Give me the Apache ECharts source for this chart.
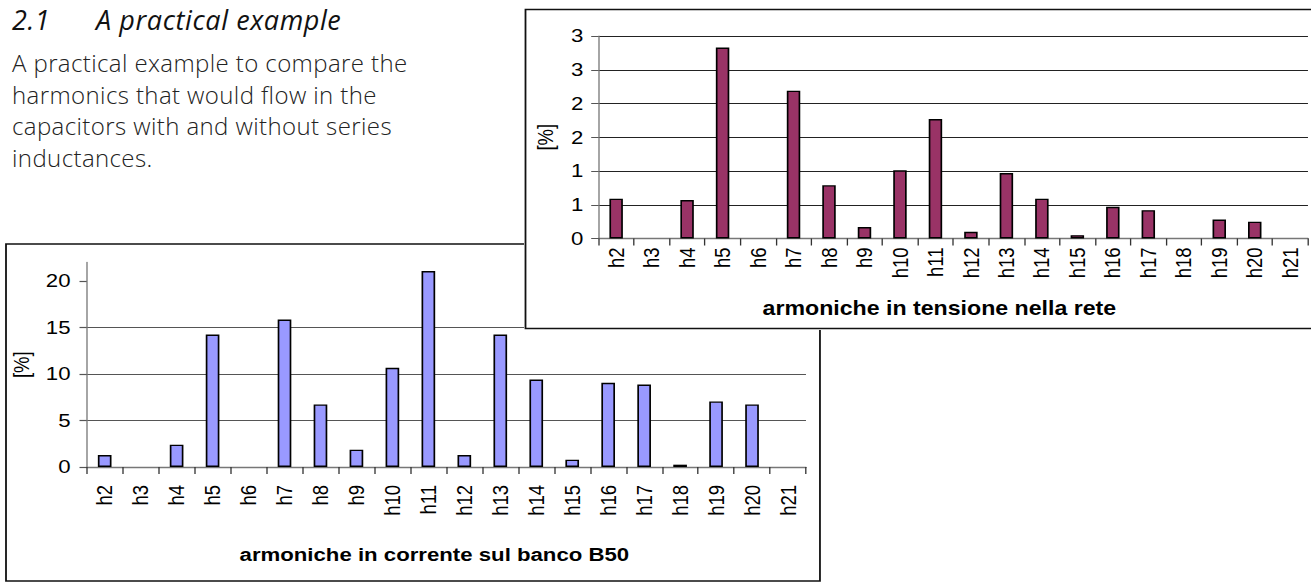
<!DOCTYPE html>
<html><head><meta charset="utf-8">
<script src="https://cdn.jsdelivr.net/npm/echarts@6/dist/echarts.min.js"></script>
<style>
html,body{margin:0;padding:0;background:#fff;width:1311px;height:582px;overflow:hidden;position:relative}
.txt{position:absolute;font-family:'Open Sans',Lato,sans-serif;white-space:nowrap}
.h{top:4.5px;font-style:italic;font-size:27px;line-height:30px;color:#111;letter-spacing:0.6px;font-weight:400}
#para{left:12px;top:47px;font-size:24px;line-height:31.7px;color:#222;font-weight:300;letter-spacing:0.4px}
/* the reference charts are stretched horizontally by ~1.2 */
#cB{position:absolute;left:0;top:240px;width:686.7px;height:342px;transform:scaleX(1.2);transform-origin:0 0}
#cT{position:absolute;left:524px;top:8px;width:655.8px;height:322px;background:#fff;transform:scaleX(1.2);transform-origin:0 0}
</style></head>
<body>
<div class="txt h" style="left:12px">2.1</div>
<div class="txt h" style="left:96px">A practical example</div>
<div class="txt" id="para">A practical example to compare the<br>harmonics that would flow in the<br>capacitors with and without series<br>inductances.</div>
<div id="cB"></div>
<div id="cT"></div>
<script>
// ---- data ----
const categories = ['h2','h3','h4','h5','h6','h7','h8','h9','h10','h11','h12','h13','h14','h15','h16','h17','h18','h19','h20','h21'];
const tensioneRete = [0.59, null, 0.57, 2.83, null, 2.19, 0.79, 0.17, 1.01, 1.77, 0.10, 0.97, 0.59, 0.05, 0.47, 0.42, null, 0.28, 0.25, null];
const correnteB50 = [1.29, null, 2.4, 14.24, null, 15.85, 6.73, 1.86, 10.66, 21.07, 1.29, 14.24, 9.41, 0.79, 9.05, 8.87, 0.25, 7.05, 6.73, null];
const yTicksTop = ['0','1','1','2','2','3','3'];
const yTicksBottom = ['0','5','10','15','20'];
const titleTop = 'armoniche in tensione nella rete';
const titleBottom = 'armoniche in corrente sul banco B50';
const yName = '[%]';

const FONT = "'Liberation Sans', Arial, sans-serif";
const FS = 18.5;

function makeOption(cfg){
  return {
    animation: false,
    graphic: [{type:'rect', z:-10, silent:true, shape:cfg.frame, style:{fill:'#fff', stroke:'#111', lineWidth:1.5}}],
    grid: cfg.grid,
    xAxis: {
      type:'category', data: categories, boundaryGap:true,
      name: cfg.title, nameLocation:'middle', nameGap: cfg.nameGap,
      nameTextStyle:{fontFamily:FONT, fontSize:cfg.titleFS, fontWeight:'bold', color:'#000', padding:[0, cfg.namePadR, 0, 0]},
      axisLine:{show:true, lineStyle:{color:'#777', width:1.3}},
      axisTick:{show:true, interval:0, alignWithLabel:false, length:7, lineStyle:{color:'#333', width:1.1}},
      axisLabel:{interval:0, rotate:90, margin:cfg.xMargin, fontFamily:FONT, fontSize:FS, color:'#000'},
      splitLine:{show:false}
    },
    yAxis: {
      type:'value', min:0, max:cfg.max, interval:cfg.interval,
      name: yName, nameLocation:'middle', nameGap: cfg.yNameGap,
      nameTextStyle:{fontFamily:FONT, fontSize:FS, color:'#000'},
      axisLine:{show:true, lineStyle:{color:'#777', width:1.1}},
      axisTick:{show:true, length:6, lineStyle:{color:'#555', width:1.2}, customValues: cfg.tickValues},
      axisLabel:{margin:cfg.yMargin, fontFamily:FONT, fontSize:FS, color:'#000', formatter: cfg.fmt},
      splitLine:{show:true, showMaxLine: cfg.showMaxLine, lineStyle:{color:cfg.gridColor, width:1.2}}
    },
    series: [{
      type:'bar', data: cfg.data, barWidth:'38%',
      itemStyle:{color:cfg.color, borderColor:'#000', borderWidth:1.4}
    }]
  };
}

const chartB = echarts.init(document.getElementById('cB'), null, {renderer:'svg'});
chartB.setOption(makeOption({
  frame:{x:5, y:4, width:678.3, height:337},
  grid:{left:72.25, top:22.4, width:599.4, height:204.6},
  title:titleBottom, titleFS:18.5, nameGap:78, namePadR:20, xMargin:18,
  max:22, interval:5, yNameGap:43, yMargin:13.5, tickValues:[0,5,10,15,20], showMaxLine:false,
  fmt: v => { const i = v/5; return Number.isInteger(i) && yTicksBottom[i] !== undefined ? yTicksBottom[i] : ''; },
  gridColor:'#555', data: correnteB50, color:'#9999FF'
}));

const chartT = echarts.init(document.getElementById('cT'), null, {renderer:'svg'});
chartT.setOption(makeOption({
  frame:{x:1.25, y:1.5, width:666, height:319},
  grid:{left:60.4, top:28, width:592.9, height:202.5},
  title:titleTop, titleFS:19.3, nameGap:61, namePadR:23, xMargin:9,
  max:3, interval:0.5, yNameGap:35, yMargin:12.5, tickValues:null, showMaxLine:true,
  fmt: v => yTicksTop[Math.round(v/0.5)],
  gridColor:'#222', data: tensioneRete, color:'#993366'
}));
</script>
</body></html>
